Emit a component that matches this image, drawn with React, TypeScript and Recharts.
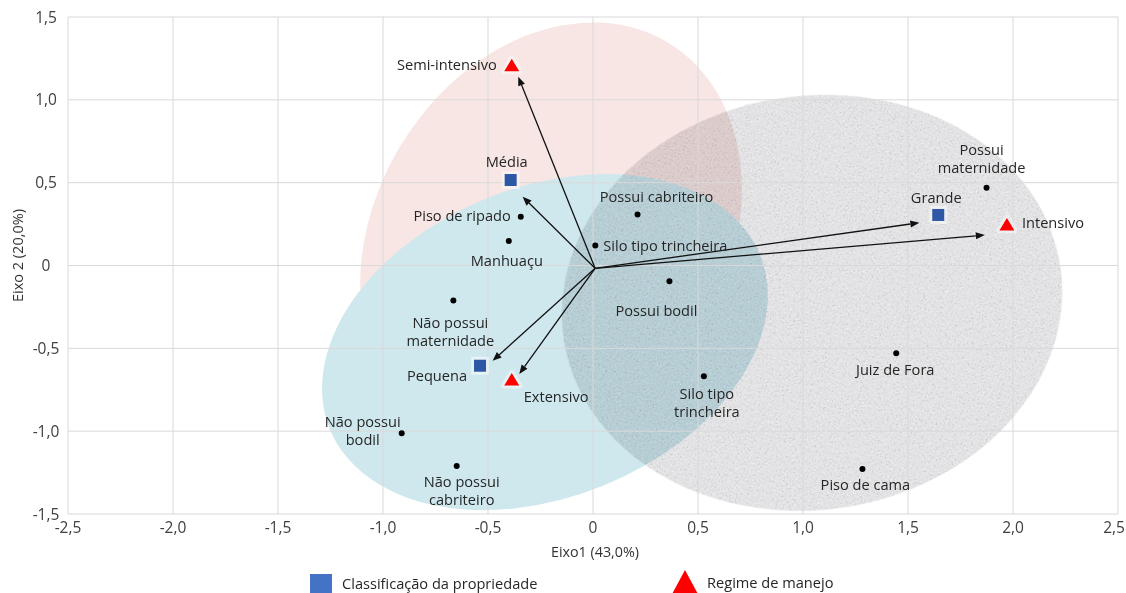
import React from 'react';
import {
  ScatterChart,
  Scatter,
  XAxis,
  YAxis,
  CartesianGrid,
  ReferenceArea,
  ReferenceLine,
  Legend,
} from 'recharts';

const FONT = '"Open Sans", "Noto Sans", sans-serif';

// ---- axes ----
const xTicks = [-2.5, -2, -1.5, -1, -0.5, 0, 0.5, 1, 1.5, 2, 2.5];
const xTickLabels = ['-2,5', '-2,0', '-1,5', '-1,0', '-0,5', '0', '0,5', '1,0', '1,5', '2,0', '2,5'];
const yTicks = [-1.5, -1, -0.5, 0, 0.5, 1, 1.5];
const yTickLabels = ['-1,5', '-1,0', '-0,5', '0', '0,5', '1,0', '1,5'];
const xTitle = 'Eixo1 (43,0%)';
const yTitle = 'Eixo 2 (20,0%)';

// ---- series ----
const sizeSeriesName = 'Classificação da propriedade';
const regimeSeriesName = 'Regime de manejo';

// descriptive variables (black dots)
const variables = [
  { name: 'Possui\nmaternidade', x: 1.874, y: 0.47 },
  { name: 'Juiz de Fora', x: 1.444, y: -0.53 },
  { name: 'Piso de cama', x: 1.283, y: -1.228 },
  { name: 'Silo tipo\ntrincheira', x: 0.528, y: -0.669 },
  { name: 'Possui cabriteiro', x: 0.212, y: 0.308 },
  { name: 'Possui bodil', x: 0.364, y: -0.095 },
  { name: 'Silo tipo trincheira', x: 0.011, y: 0.12 },
  { name: 'Piso de ripado', x: -0.344, y: 0.295 },
  { name: 'Manhuaçu', x: -0.401, y: 0.148 },
  { name: 'Não possui\nmaternidade', x: -0.665, y: -0.212 },
  { name: 'Não possui\nbodil', x: -0.911, y: -1.013 },
  { name: 'Não possui\ncabriteiro', x: -0.649, y: -1.21 },
];

// property size classes (blue squares)
const propertySizes = [
  { name: 'Média', x: -0.392, y: 0.516 },
  { name: 'Grande', x: 1.644, y: 0.305 },
  { name: 'Pequena', x: -0.538, y: -0.605 },
];

// management regimes (red triangles)
const managementRegimes = [
  { name: 'Semi-intensivo', x: -0.387, y: 1.21 },
  { name: 'Intensivo', x: 1.971, y: 0.249 },
  { name: 'Extensivo', x: -0.387, y: -0.687 },
];

// supplementary vectors drawn as arrows from the origin
const vectorOrigin = { x: 0.01, y: -0.017 };
const vectorTips = [
  { to: 'Semi-intensivo', x: -0.356, y: 1.14 },
  { to: 'Média', x: -0.335, y: 0.415 },
  { to: 'Grande', x: 1.554, y: 0.258 },
  { to: 'Intensivo', x: 1.866, y: 0.184 },
  { to: 'Pequena', x: -0.478, y: -0.575 },
  { to: 'Extensivo', x: -0.351, y: -0.655 },
];

// group ellipses: centre and semi-axes in axis units, tilt in degrees
const groupEllipses = [
  { id: 'semi', cx: -0.2, cy: 0.172, rx: 0.838, ry: 1.37, angle: 31 },
  { id: 'ext', cx: -0.229, cy: -0.462, rx: 1.105, ry: 0.936, angle: -22 },
  { id: 'int', cx: 1.043, cy: -0.225, rx: 1.195, ry: 1.25, angle: -8 },
];

// ---- styling ----
const ellipseLook: Record<string, { fill: string; blend: string; grain: boolean }> = {
  semi: { fill: '#f7e6e3', blend: 'normal', grain: false },
  ext: { fill: '#cfe8ee', blend: 'normal', grain: false },
  int: { fill: '#e2e2e4', blend: 'multiply', grain: true },
};

type Anchor = 'start' | 'middle' | 'end';
const labelLayout: Record<string, { anchor: Anchor; dx: number; dy: number }> = {
  'Possui\nmaternidade': { anchor: 'middle', dx: -5, dy: -38 },
  'Juiz de Fora': { anchor: 'middle', dx: -1, dy: 17 },
  'Piso de cama': { anchor: 'middle', dx: 3, dy: 16 },
  'Silo tipo\ntrincheira': { anchor: 'middle', dx: 3, dy: 18 },
  'Possui cabriteiro': { anchor: 'middle', dx: 19, dy: -17 },
  'Possui bodil': { anchor: 'middle', dx: -13, dy: 30 },
  'Silo tipo trincheira': { anchor: 'start', dx: 8, dy: 0 },
  'Piso de ripado': { anchor: 'end', dx: -10, dy: -1 },
  'Manhuaçu': { anchor: 'middle', dx: -2, dy: 20 },
  'Não possui\nmaternidade': { anchor: 'middle', dx: -3, dy: 22 },
  'Não possui\nbodil': { anchor: 'middle', dx: -39, dy: -11 },
  'Não possui\ncabriteiro': { anchor: 'middle', dx: 5, dy: 16 },
  'Média': { anchor: 'middle', dx: -4, dy: -18 },
  'Grande': { anchor: 'middle', dx: -2, dy: -17 },
  'Pequena': { anchor: 'end', dx: -13, dy: 10 },
  'Semi-intensivo': { anchor: 'end', dx: -15, dy: 0 },
  'Intensivo': { anchor: 'start', dx: 15, dy: -1 },
  'Extensivo': { anchor: 'start', dx: 12, dy: 18 },
};

const LABEL_SIZE = 14.6;
const LINE_GAP = 18;
const LABEL_COLOR = '#262626';
const TICK_COLOR = '#404040';
const SQUARE_COLOR = '#2e58a6';
const LEGEND_SQUARE = '#4472c4';
const TRIANGLE_COLOR = '#ff0000';

const PointLabel = ({ name, cx, cy }: { name: string; cx: number; cy: number }) => {
  const lay = labelLayout[name] || { anchor: 'start' as Anchor, dx: 8, dy: 0 };
  const lines = name.split('\n');
  const x = cx + lay.dx;
  return (
    <text
      x={x}
      y={cy + lay.dy + 5}
      textAnchor={lay.anchor}
      fontSize={LABEL_SIZE}
      fill={LABEL_COLOR}
      fontFamily={FONT}
    >
      {lines.map((line, i) => (
        <tspan key={i} x={x} dy={i === 0 ? 0 : LINE_GAP}>
          {line}
        </tspan>
      ))}
    </text>
  );
};

const DotMark = (props: any) => {
  const { cx, cy, payload } = props;
  return (
    <g>
      <circle cx={cx} cy={cy} r={3} fill="#000" />
      <PointLabel name={payload.name} cx={cx} cy={cy} />
    </g>
  );
};

const SquareMark = (props: any) => {
  const { cx, cy, payload } = props;
  const s = 12;
  return (
    <g>
      <rect x={cx - s / 2 - 3} y={cy - s / 2 - 3} width={s + 6} height={s + 6} fill="#ffffff" opacity={0.45} />
      <rect x={cx - s / 2} y={cy - s / 2} width={s} height={s} fill={SQUARE_COLOR} />
      <PointLabel name={payload.name} cx={cx} cy={cy} />
    </g>
  );
};

const TriangleMark = (props: any) => {
  const { cx, cy, payload } = props;
  const w = 15;
  const h = 12.5;
  const pts = `${cx},${cy - h / 2} ${cx - w / 2},${cy + h / 2} ${cx + w / 2},${cy + h / 2}`;
  return (
    <g>
      <polygon points={pts} fill="#ffffff" opacity={0.45} stroke="#ffffff" strokeWidth={6} strokeLinejoin="round" />
      <polygon points={pts} fill={TRIANGLE_COLOR} />
      <PointLabel name={payload.name} cx={cx} cy={cy} />
    </g>
  );
};

const ArrowShape = (props: any) => {
  const { x1, y1, x2, y2 } = props;
  if ([x1, y1, x2, y2].some((v) => typeof v !== 'number' || Number.isNaN(v))) return <g />;
  const ang = Math.atan2(y2 - y1, x2 - x1);
  const len = 9;
  const half = 3.6;
  const bx = x2 - len * Math.cos(ang);
  const by = y2 - len * Math.sin(ang);
  const px = -Math.sin(ang) * half;
  const py = Math.cos(ang) * half;
  return (
    <g>
      <line x1={x1} y1={y1} x2={bx} y2={by} stroke="#111" strokeWidth={1.3} />
      <polygon points={`${x2},${y2} ${bx + px},${by + py} ${bx - px},${by - py}`} fill="#111" />
    </g>
  );
};

const makeEllipseShape = (id: string, angle: number) => (props: any) => {
  const { x, y, width, height } = props;
  if ([x, y, width, height].some((v) => typeof v !== 'number' || Number.isNaN(v))) return <g />;
  const cx = x + width / 2;
  const cy = y + height / 2;
  const look = ellipseLook[id];
  return (
    <g style={{ mixBlendMode: look.blend as any }}>
      {look.grain && (
        <defs>
          <filter id={`grain-${id}`} x="0%" y="0%" width="100%" height="100%" colorInterpolationFilters="sRGB">
            <feTurbulence type="fractalNoise" baseFrequency="0.6" numOctaves={2} seed={7} result="noise" />
            <feColorMatrix
              in="noise"
              type="matrix"
              values="0 0 0 0 0.6  0 0 0 0 0.6  0 0 0 0 0.62  1.8 0 0 0 -1.06"
              result="dark"
            />
            <feColorMatrix
              in="noise"
              type="matrix"
              values="0 0 0 0 1  0 0 0 0 1  0 0 0 0 1  -1.8 0 0 0 0.88"
              result="light"
            />
            <feMerge result="tex">
              <feMergeNode in="dark" />
              <feMergeNode in="light" />
            </feMerge>
            <feComposite in="tex" in2="SourceGraphic" operator="in" result="inside" />
            <feMerge>
              <feMergeNode in="SourceGraphic" />
              <feMergeNode in="inside" />
            </feMerge>
          </filter>
        </defs>
      )}
      <ellipse
        cx={cx}
        cy={cy}
        rx={Math.abs(width) / 2}
        ry={Math.abs(height) / 2}
        transform={`rotate(${angle} ${cx} ${cy})`}
        fill={look.fill}
        filter={look.grain ? `url(#grain-${id})` : undefined}
      />
    </g>
  );
};

const XTick = (props: any) => {
  const { x, y, payload } = props;
  const i = xTicks.indexOf(payload.value);
  const last = i === xTicks.length - 1;
  return (
    <text
      x={last ? x + 7 : x}
      y={y + 19}
      textAnchor={last ? 'end' : 'middle'}
      fontSize={15.5}
      fill={TICK_COLOR}
      fontFamily={FONT}
    >
      {xTickLabels[i]}
    </text>
  );
};

const YTick = (props: any) => {
  const { x, y, payload } = props;
  const i = yTicks.indexOf(payload.value);
  return (
    <text x={x - 22} y={y + 5.5} textAnchor="middle" fontSize={15.5} fill={TICK_COLOR} fontFamily={FONT}>
      {yTickLabels[i]}
    </text>
  );
};

const XTitle = (props: any) => {
  const vb = props.viewBox || { x: 68, y: 514, width: 1050, height: 79 };
  return (
    <text x={vb.x + vb.width / 2 + 2} y={vb.y + 43} textAnchor="middle" fontSize={14.3} fill="#333" fontFamily={FONT}>
      {xTitle}
    </text>
  );
};

const YTitle = (props: any) => {
  const vb = props.viewBox || { x: 0, y: 17, width: 68, height: 497 };
  const cx = vb.x + 17;
  const cy = vb.y + vb.height / 2 - 10;
  return (
    <text
      x={cx}
      y={cy}
      textAnchor="middle"
      dominantBaseline="central"
      transform={`rotate(-90 ${cx} ${cy})`}
      fontSize={14.5}
      fill="#333"
      fontFamily={FONT}
    >
      {yTitle}
    </text>
  );
};

const LegendBox = () => (
  <svg width={1126} height={30} style={{ display: 'block', overflow: 'visible' }}>
    <rect x={310} y={8} width={22} height={22} fill={LEGEND_SQUARE} />
    <text x={342} y={23} fontSize={LABEL_SIZE} fill={LABEL_COLOR} fontFamily={FONT}>
      {sizeSeriesName}
    </text>
    <polygon points="685,4 671,30 699,30" fill={TRIANGLE_COLOR} />
    <text x={707} y={22} fontSize={LABEL_SIZE} fill={LABEL_COLOR} fontFamily={FONT}>
      {regimeSeriesName}
    </text>
  </svg>
);

export default function App() {
  return (
    <div
      style={{
        position: 'absolute',
        left: 0,
        top: 0,
        width: 1126,
        height: 593,
        overflow: 'hidden',
        background: '#ffffff',
        fontFamily: FONT,
      }}
    >
      <ScatterChart width={1126} height={593} margin={{ top: 17, right: 8, bottom: 0, left: 0 }}>
        <XAxis
          type="number"
          dataKey="x"
          domain={[-2.5, 2.5]}
          ticks={xTicks}
          interval={0}
          allowDataOverflow
          axisLine={false}
          tickLine={false}
          tickSize={0}
          tickMargin={0}
          tick={XTick}
          height={79}
          label={{ content: XTitle }}
        />
        <YAxis
          type="number"
          dataKey="y"
          domain={[-1.5, 1.5]}
          ticks={yTicks}
          interval={0}
          allowDataOverflow
          axisLine={false}
          tickLine={false}
          tickSize={0}
          tickMargin={0}
          tick={YTick}
          width={68}
          label={{ content: YTitle }}
        />

        {groupEllipses.map((e) => (
          <ReferenceArea
            key={e.id}
            x1={e.cx - e.rx}
            x2={e.cx + e.rx}
            y1={e.cy - e.ry}
            y2={e.cy + e.ry}
            ifOverflow="visible"
            shape={makeEllipseShape(e.id, e.angle)}
            zIndex={50}
          />
        ))}

        <CartesianGrid stroke="#d9d9d9" strokeWidth={1} zIndex={60} />

        {vectorTips.map((t) => (
          <ReferenceLine
            key={t.to}
            segment={[
              { x: vectorOrigin.x, y: vectorOrigin.y },
              { x: t.x, y: t.y },
            ]}
            ifOverflow="visible"
            shape={ArrowShape}
            zIndex={70}
          />
        ))}

        <Scatter
          name="Variáveis"
          data={variables}
          shape={DotMark}
          legendType="none"
          isAnimationActive={false}
        />
        <Scatter
          name={sizeSeriesName}
          data={propertySizes}
          shape={SquareMark}
          fill={LEGEND_SQUARE}
          legendType="square"
          isAnimationActive={false}
        />
        <Scatter
          name={regimeSeriesName}
          data={managementRegimes}
          shape={TriangleMark}
          fill={TRIANGLE_COLOR}
          legendType="triangle"
          isAnimationActive={false}
        />

        <Legend
          layout="horizontal"
          verticalAlign="middle"
          align="center"
          content={() => <LegendBox />}
          wrapperStyle={{ position: 'absolute', left: 0, top: 566, width: 1126, height: 30, margin: 0, padding: 0 }}
        />
      </ScatterChart>
    </div>
  );
}
